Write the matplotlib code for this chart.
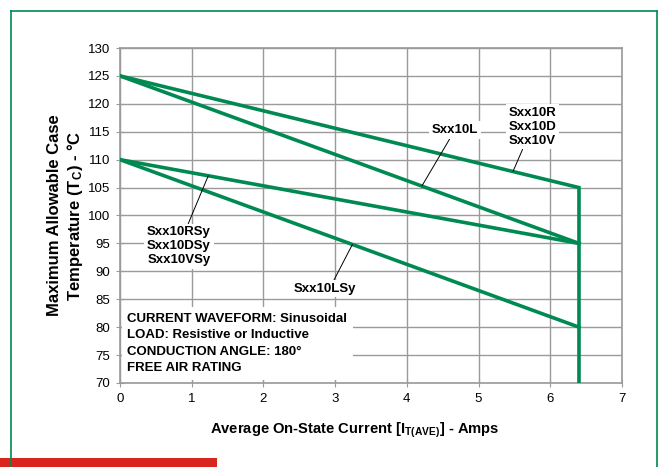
import numpy as np
import matplotlib.pyplot as plt
from matplotlib.patches import Rectangle
from matplotlib.lines import Line2D

plt.rcParams['font.family'] = ['Liberation Sans', 'DejaVu Sans']
plt.rcParams['mathtext.fontset'] = 'custom'
plt.rcParams['mathtext.rm'] = 'Liberation Sans:bold'
plt.rcParams['mathtext.it'] = 'Liberation Sans:bold'
plt.rcParams['mathtext.bf'] = 'Liberation Sans:bold'

# Curves: (current, case temperature)
x_rdv = [0, 6.4, 6.4]
y_rdv = [125, 105, 70]
x_l = [0, 6.4]
y_l = [125, 95]
x_rsy = [0, 6.4]
y_rsy = [110, 95]
x_lsy = [0, 6.4]
y_lsy = [110, 80]

green = '#008a52'
gray = '#9a9a9a'

fig = plt.figure(figsize=(6.62, 4.67), dpi=100)
ax = fig.add_axes([0.1813, 0.1799, 0.7583, 0.7173])

for xs, ys in [(x_l, y_l), (x_rsy, y_rsy), (x_lsy, y_lsy), (x_rdv, y_rdv)]:
    ax.plot(xs, ys, color=green, lw=2.6, solid_joinstyle='miter', zorder=3)

ax.set_xlim(0, 7)
ax.set_ylim(70, 130)
ax.set_xticks(range(0, 8))
ax.set_yticks(range(70, 131, 5))
ax.grid(True, color=gray, lw=1.0)
ax.set_axisbelow(True)
for s in ax.spines.values():
    s.set_color(gray)
    s.set_linewidth(1.2)
ax.tick_params(direction='inout', length=6, color=gray, labelsize=9.5, pad=4)

ax.set_xlabel('Average On-State Current [I$_{\\mathrm{T(AVE)}}$] - Amps',
              fontsize=10.6, fontweight='bold')
ax.xaxis.set_label_coords(0.468, -0.112)
ax.set_ylabel('Maximum Allowable Case\nTemperature (T$_{\\mathrm{C}}$) - °C',
              fontsize=12, fontweight='bold', labelpad=2, linespacing=1.2)

box = dict(facecolor='white', edgecolor='none', pad=2)
arrow = dict(arrowstyle='-', color='black', lw=0.7, shrinkA=0, shrinkB=0)

ax.annotate('Sxx10L', xy=(4.21, 105.3), xytext=(4.67, 115.3), ha='center', va='center',
            fontsize=9.5, fontweight='bold', bbox=box, arrowprops=arrow, zorder=5)
ax.annotate('Sxx10R\nSxx10D\nSxx10V', xy=(5.48, 107.9), xytext=(5.75, 115.9),
            ha='center', va='center', fontsize=9.5, fontweight='bold', linespacing=1.2,
            bbox=box, arrowprops=arrow, zorder=5)
ax.annotate('Sxx10RSy\nSxx10DSy\nSxx10VSy', xy=(1.23, 107.1), xytext=(0.82, 94.5),
            ha='center', va='center', fontsize=9.5, fontweight='bold', linespacing=1.2,
            bbox=box, arrowprops=arrow, zorder=5)
ax.annotate('Sxx10LSy', xy=(3.24, 94.8), xytext=(2.86, 86.9), ha='center', va='center',
            fontsize=9.5, fontweight='bold', bbox=box, arrowprops=dict(arrow, relpos=(0.62, 1.0)),
            zorder=5)

ax.text(0.1, 82.6, 'CURRENT WAVEFORM: Sinusoidal\nLOAD: Resistive or Inductive\n'
        'CONDUCTION ANGLE: 180°\nFREE AIR RATING', ha='left', va='top',
        fontsize=9.5, fontweight='bold', linespacing=1.5,
        bbox=dict(facecolor='white', edgecolor='none', pad=4), zorder=5)

# page frame and red bar
W, H = 662.0, 467.0
fig.add_artist(Line2D([11 / W, 11 / W], [0, 1 - 11 / H], color=green, lw=1.2))
fig.add_artist(Line2D([11 / W, 657 / W], [1 - 11 / H, 1 - 11 / H], color=green, lw=1.2))
fig.add_artist(Line2D([657 / W, 657 / W], [0, 1 - 11 / H], color=green, lw=1.2))
fig.add_artist(Rectangle((0, 0), 217 / W, 9 / H, color='#d8261e', lw=0))

fig.savefig('out.png', dpi=100)
